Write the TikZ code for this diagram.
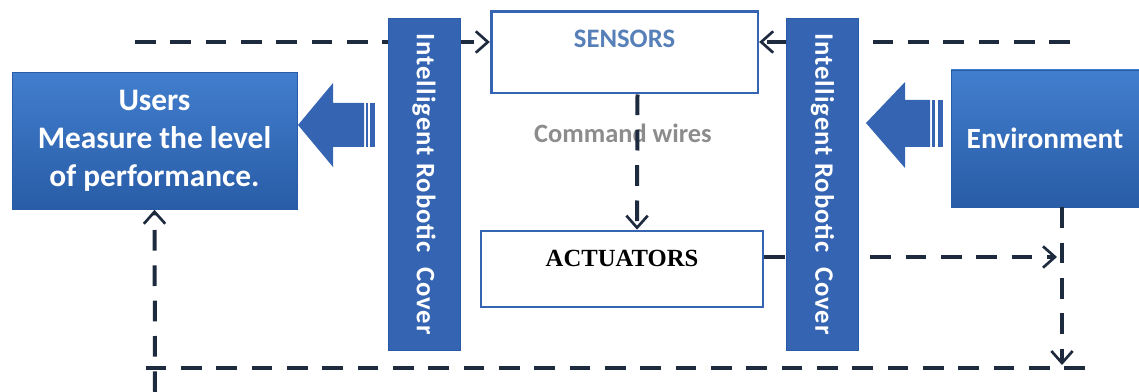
\documentclass[tikz,border=0pt]{standalone}
\usepackage{fontspec}
\setmainfont{Carlito}
\newfontfamily\timesfont{Liberation Serif}
\usetikzlibrary{arrows.meta,positioning}
\definecolor{bluetop}{RGB}{66,126,206}
\definecolor{bluebot}{RGB}{40,92,166}
\definecolor{blueline}{RGB}{52,100,178}
\definecolor{wire}{RGB}{30,42,62}
\definecolor{sensorblue}{RGB}{88,128,184}
\tikzstyle{block} = [rectangle,
                    top color=bluetop,
                    bottom color=bluebot,
                    draw=bluebot,
                    thin,
                    text=white,
                    align=center,
                    font=\fontsize{23.5}{28.5}\selectfont\bfseries]
\tikzstyle{cover} = [rectangle,
                    fill=blueline,
                    draw=bluebot,
                    rotate=-90,
                    minimum width=249pt,
                    minimum height=54pt,
                    text=white,
                    font=\fontsize{20}{22}\selectfont\bfseries\addfontfeature{LetterSpace=4}]
\tikzstyle{unit} = [rectangle,
                   draw=blueline,
                   fill=white,
                   line width=2pt]
\tikzstyle{wires} = [draw=wire,
                    line width=3pt,
                    dash pattern=on 15.5pt off 11pt,
                    -{Straight Barb[length=9pt,width=16pt,line width=2pt]}]
\tikzstyle{wireplain} = [draw=wire,
                        line width=3pt,
                        dash pattern=on 15.5pt off 11pt]

\begin{document}
\begin{tikzpicture}[x=0.75pt,y=-0.75pt]
    \useasboundingbox (0,0) rectangle (1139,392);
    % boxes
    \node (users) [block, minimum width=213.75pt, minimum height=102.75pt] at (154.5,141)
      {Users\\Measure the level\\of performance.};
    \node (env) [block, minimum width=141pt, minimum height=102.75pt,
      font=\fontsize{22}{26}\selectfont\bfseries] at (1045,138.5) {Environment};
    \node (sensors) [unit, minimum width=200pt, minimum height=61pt] at (624.5,52.5) {};
    \node (sensorslbl) [below=11pt of sensors.north, text=sensorblue,
      font=\fontsize{20}{22}\selectfont\bfseries] {SENSORS};
    \node (actuators) [unit, minimum width=211.5pt, minimum height=57pt] at (622,269) {};
    \node (actuatorslbl) [below=12pt of actuators.north,
      font=\fontsize{18.5}{20}\selectfont\timesfont\bfseries] {ACTUATORS};
    \node (cmd) [text=black!45, font=\fontsize{19.8}{22}\selectfont\bfseries] at (623,133) {Command wires};
    % loose ends
    \coordinate (tl) at (135,42);
    \coordinate (tr) at (1070,42);
    \coordinate (ra) at (1057,257);
    \coordinate (rv) at (1062,365);
    \coordinate (bl) at (140,368);
    \coordinate (br) at (1085,368);
    \coordinate (lv) at (155,392);
    % wires
    \draw[wires] (tl) -- (tl -| sensors.west);
    \draw[wires] (tr) -- (tr -| sensors.east);
    \draw[wires] ([xshift=9.75pt]sensors.south) -- ([xshift=11.25pt]actuators.north);
    \draw[wires] (actuators.east |- ra) -- (ra);
    \draw[wires] (rv |- env.south) -- (rv);
    \draw[wireplain] (br) -- (bl);
    \draw[wires] (lv) -- (users.south);
    % covers
    \node (lcover) [cover] at (424,184) {Intelligent Robotic\ \ Cover};
    \node (rcover) [cover] at (822.5,184) {Intelligent Robotic\ \ Cover};
    % block arrows
    \fill[blueline] (298,125) -- (333,83) -- (333,103) -- (364,103) -- (364,147)
      -- (333,147) -- (333,167) -- cycle;
    \fill[blueline] (366,103) rectangle (368,147);
    \fill[blueline] (370,103) rectangle (375,147);
    \fill[blueline] (866,123) -- (905,82) -- (905,100) -- (930,100) -- (930,147)
      -- (905,147) -- (905,168) -- cycle;
    \fill[blueline] (932,100) rectangle (935,147);
    \fill[blueline] (938,100) rectangle (943,147);
\end{tikzpicture}
\end{document}
